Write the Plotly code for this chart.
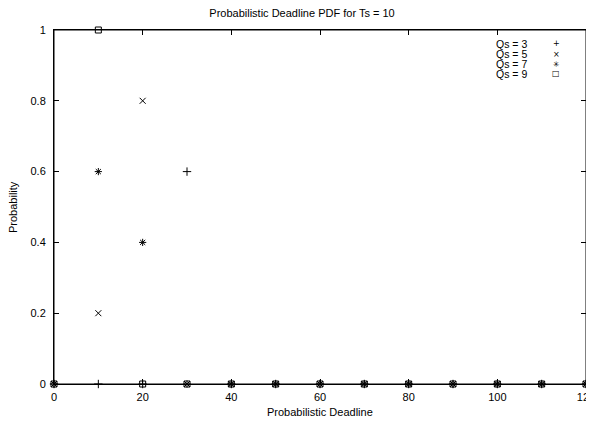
import plotly.graph_objects as go

deadlines = [0, 10, 20, 30, 40, 50, 60, 70, 80, 90, 100, 110, 120]
qs3 = [0, 0, 0, 0.6, 0, 0, 0, 0, 0, 0, 0, 0, 0]
qs5 = [0, 0.2, 0.8, 0, 0, 0, 0, 0, 0, 0, 0, 0, 0]
qs7 = [0, 0.6, 0.4, 0, 0, 0, 0, 0, 0, 0, 0, 0, 0]
qs9 = [0, 1.0, 0, 0, 0, 0, 0, 0, 0, 0, 0, 0, 0]
names = ["Qs = 3", "Qs = 5", "Qs = 7", "Qs = 9"]
symbols = ["cross-thin-open", "x-thin-open", "asterisk-open", "square-open"]
legend_glyphs = ["+", "×", "✳", "□"]
x_ticks = [0, 20, 40, 60, 80, 100, 120]
y_ticks = [0, 0.2, 0.4, 0.6, 0.8, 1]

FONT = "Liberation Sans, Arial, sans-serif"
# page body has an 8px margin, so the figure is sized to fit the window
W, H = 586, 413
L, R, T, B = 46, 8, 22, 37
pw = W - L - R
ph = H - T - B

fig = go.Figure()
for name, ys, sym in zip(names, [qs3, qs5, qs7, qs9], symbols):
    fig.add_trace(go.Scatter(
        x=deadlines, y=ys, mode="markers", name=name,
        marker=dict(symbol=sym, size=6, color="black",
                    line=dict(color="black", width=1)),
        cliponaxis=False, showlegend=False,
    ))

# gnuplot-style key: text, then symbol at right
for i, (name, g) in enumerate(zip(names, legend_glyphs)):
    yy = 1 - (36 + 10 * i - T) / ph
    fig.add_annotation(xref="paper", yref="paper", x=(521 - L) / pw, y=yy,
                       text=name, showarrow=False, xanchor="right", yanchor="middle",
                       font=dict(family=FONT, size=10.5, color="black"))
    fig.add_annotation(xref="paper", yref="paper", x=(548 - L) / pw, y=yy,
                       text=g, showarrow=False, xanchor="center", yanchor="middle",
                       font=dict(family="DejaVu Sans", size=8, color="black"))

fig.add_annotation(xref="paper", yref="paper", x=0.5, y=-(404 - (H - B)) / ph,
                   text="Probabilistic Deadline", showarrow=False,
                   xanchor="center", yanchor="middle",
                   font=dict(family=FONT, size=11, color="black"))
fig.add_annotation(xref="paper", yref="paper", x=-(L - 5) / pw, y=0.5,
                   text="Probability", showarrow=False, textangle=-90,
                   xanchor="center", yanchor="middle",
                   font=dict(family=FONT, size=11, color="black"))

fig.add_shape(type="rect", xref="paper", yref="paper", x0=0, y0=0, x1=1, y1=1,
              line=dict(color="black", width=1), layer="below")

axis_common = dict(showgrid=False, zeroline=False, showline=True, linecolor="black",
                   linewidth=1, mirror="ticks", ticks="inside", ticklen=5,
                   tickcolor="black", tickwidth=1, ticklabeloverflow="allow",
                   automargin=False,
                   tickfont=dict(family=FONT, size=11, color="black"))

fig.update_layout(
    width=W, height=H,
    margin=dict(l=L, r=R, t=T, b=B),
    paper_bgcolor="white", plot_bgcolor="white",
    title=dict(text="Probabilistic Deadline PDF for Ts = 10", x=294 / W, xanchor="center",
               y=1 - 5 / H, yanchor="middle",
               font=dict(family=FONT, size=11, color="black")),
    xaxis=dict(range=[0, 120], tickvals=x_ticks, ticklabelstandoff=3, **axis_common),
    yaxis=dict(range=[0, 1], tickvals=y_ticks, ticklabelstandoff=5, **axis_common),
)

fig.write_html("out.html")
